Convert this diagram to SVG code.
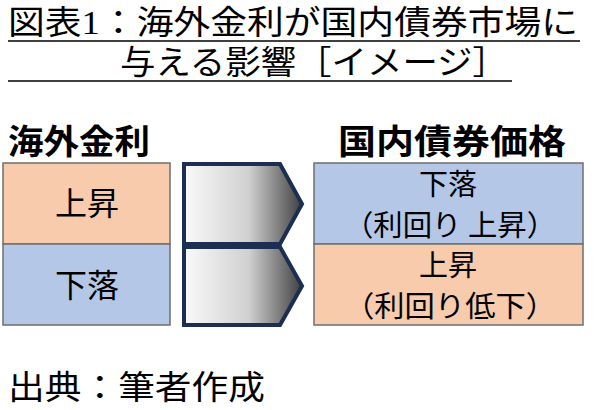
<svg xmlns="http://www.w3.org/2000/svg" width="600" height="410" viewBox="0 0 600 410">
<defs>
<linearGradient id="g" x1="0" x2="1" y1="0" y2="0"><stop offset="0" stop-color="#fafafa"/><stop offset="0.55" stop-color="#d0d0d0"/><stop offset="1" stop-color="#404040"/></linearGradient>
<style>
.t{font-family:"Liberation Serif","Noto Sans CJK JP",serif;font-size:33px;fill:#000}
.h{font-family:"Noto Sans CJK JP",sans-serif;font-size:34px;font-weight:bold;fill:#000}
.b{font-family:"Noto Sans CJK JP",sans-serif;font-size:32px;fill:#000;text-anchor:middle}
.r{font-family:"Noto Sans CJK JP",sans-serif;font-size:29px;fill:#000;text-anchor:middle}
.o{fill:#F8CBAD;stroke:#6f6f6f;stroke-width:1.5}
.u{fill:#B4C7E7;stroke:#6f6f6f;stroke-width:1.5}
.a{fill:url(#g);stroke:#1c2e52;stroke-width:4;stroke-linejoin:miter}
</style>
</defs>
<g id="title">
<text class="t" x="8" y="34" textLength="570" lengthAdjust="spacingAndGlyphs">図表1：海外金利が国内債券市場に</text>
<line x1="8" y1="41" x2="580" y2="41" stroke="#000" stroke-width="1.5"/>
<text class="t" x="120" y="74" textLength="388" lengthAdjust="spacingAndGlyphs">与える影響［イメージ］</text>
<line x1="8" y1="81" x2="512" y2="81" stroke="#000" stroke-width="1.5"/>
</g>
<g id="left">
<text class="h" x="8" y="154" textLength="142" lengthAdjust="spacingAndGlyphs">海外金利</text>
<rect class="o" x="3" y="163" width="167" height="81"/>
<text class="b" x="87" y="215">上昇</text>
<rect class="u" x="3" y="244" width="167" height="81"/>
<text class="b" x="87" y="297">下落</text>
</g>
<g id="connectors">
<path class="a" d="M184,164 H280 L302,204 L280,244 H184 Z"/>
<path class="a" d="M184,247 H280 L302,286 L280,325 H184 Z"/>
</g>
<g id="right">
<text class="h" x="338" y="154" textLength="228" lengthAdjust="spacingAndGlyphs">国内債券価格</text>
<rect class="u" x="314" y="163" width="269" height="81"/>
<text class="r" x="448" y="195">下落</text>
<text class="r" x="450" y="236" textLength="212" lengthAdjust="spacingAndGlyphs">（利回り 上昇）</text>
<rect class="o" x="314" y="244" width="269" height="81"/>
<text class="r" x="448" y="276">上昇</text>
<text class="r" x="450" y="317" textLength="212" lengthAdjust="spacingAndGlyphs">（利回り低下）</text>
</g>
<text class="t" x="8" y="399" textLength="257" lengthAdjust="spacingAndGlyphs">出典：筆者作成</text>
</svg>
